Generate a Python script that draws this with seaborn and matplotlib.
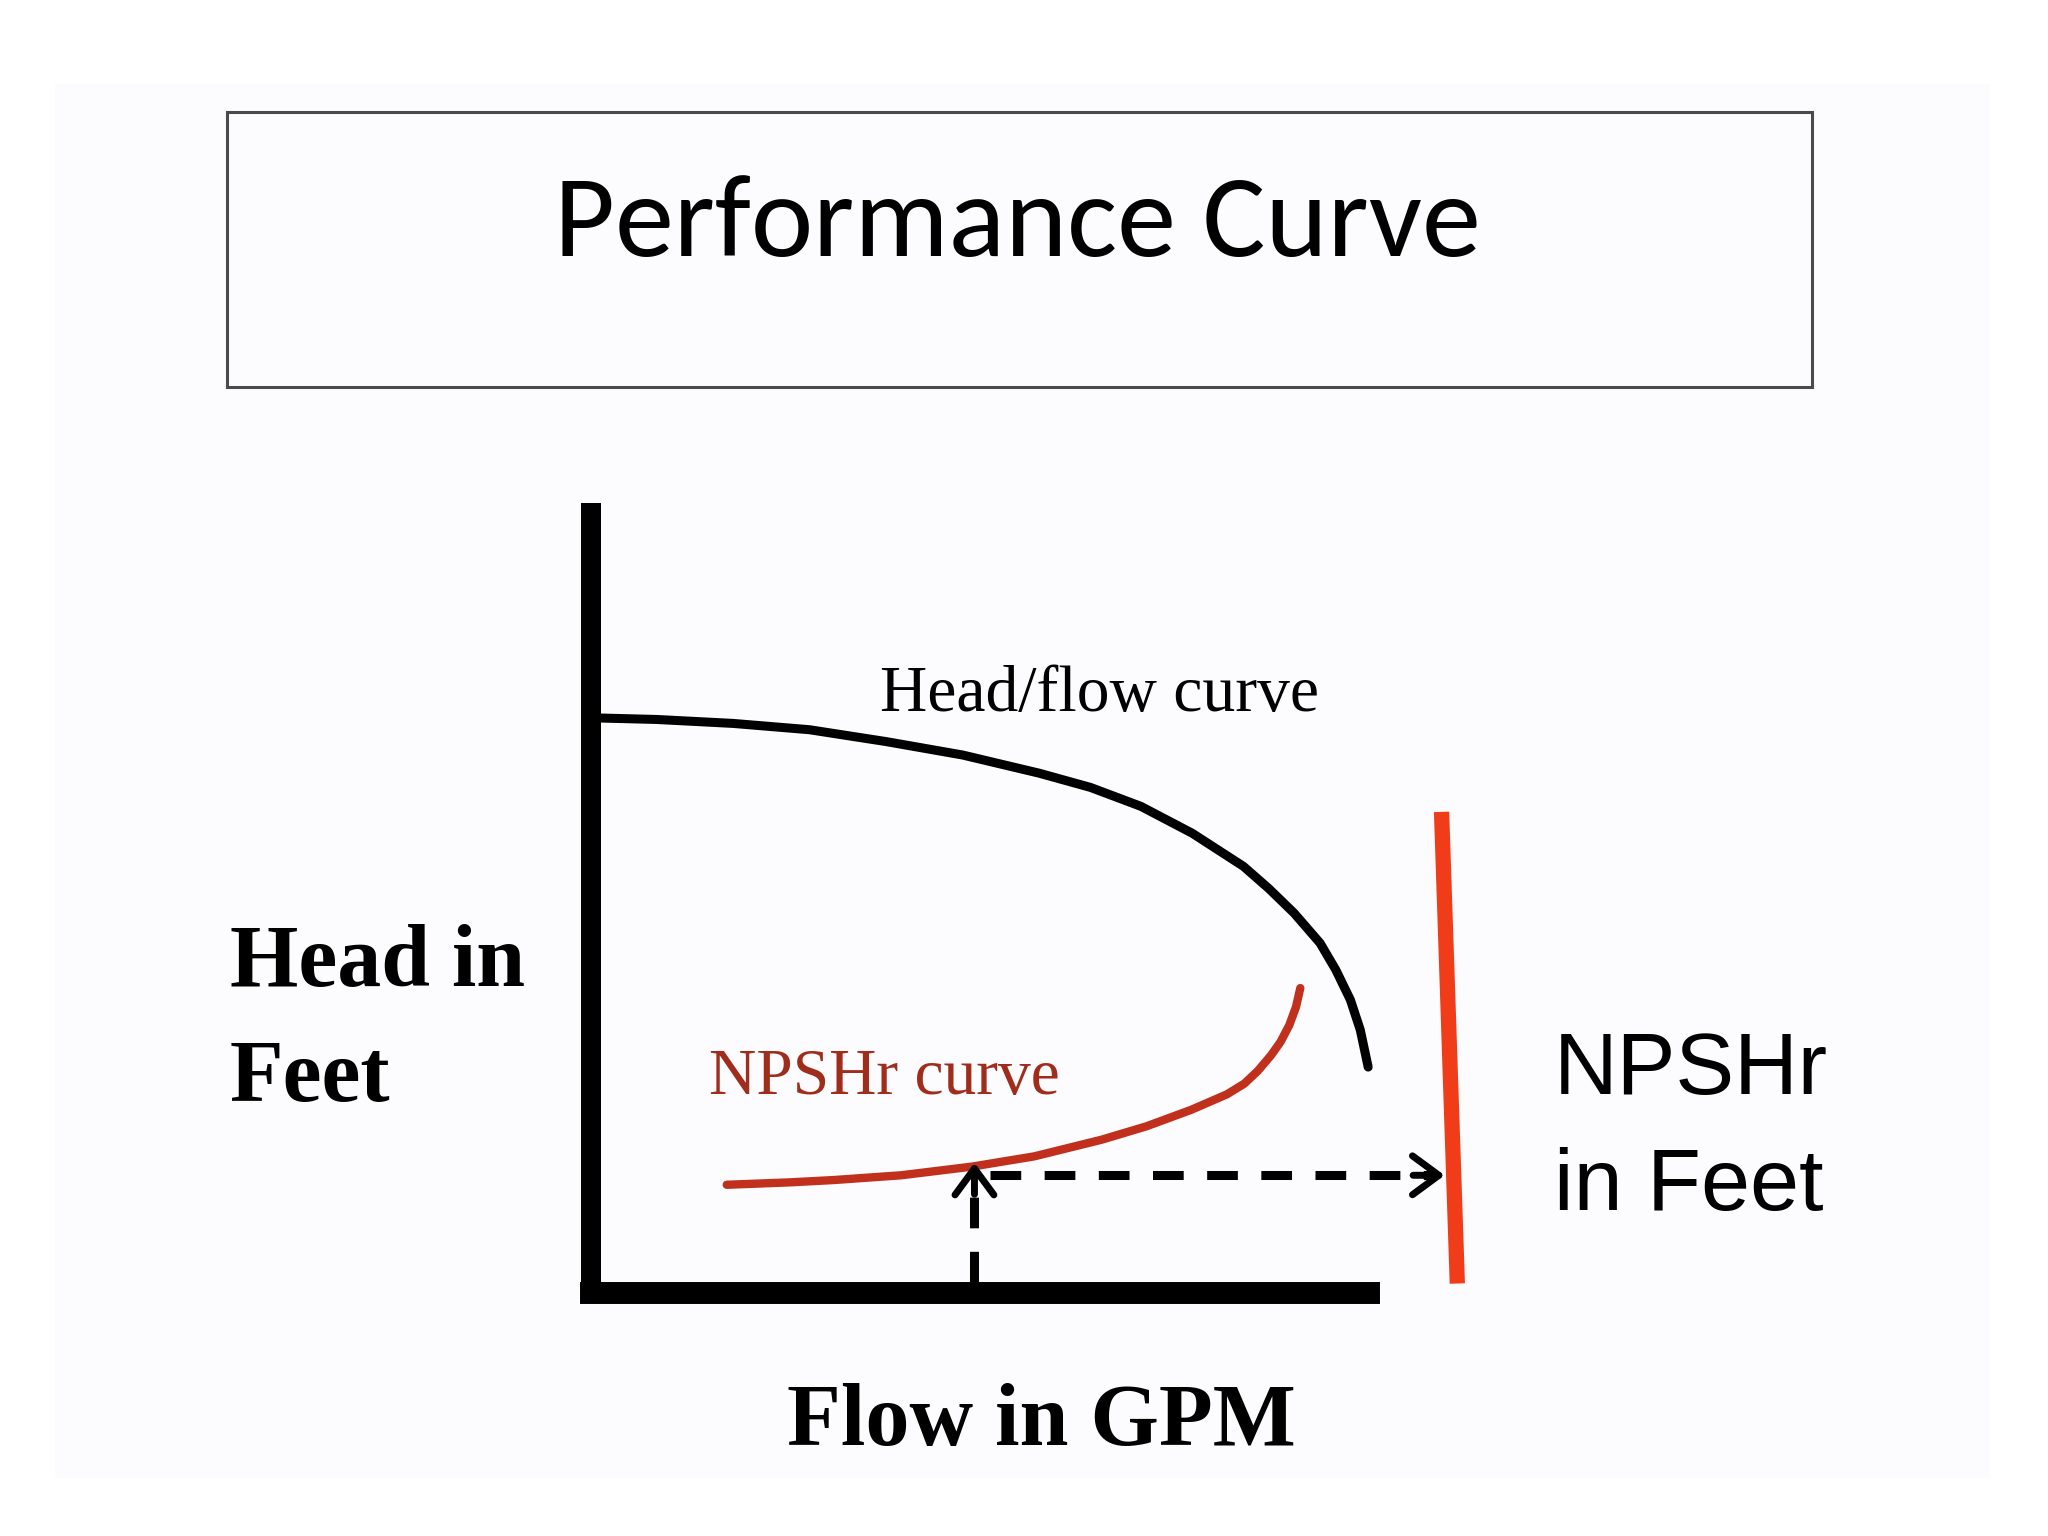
import numpy as np
import matplotlib
matplotlib.use("Agg")
import matplotlib.pyplot as plt
import seaborn as sns
from matplotlib.patches import Rectangle
from matplotlib.textpath import TextPath
from matplotlib.font_manager import FontProperties, fontManager

# head/flow curve: flow 0-100 along the drawn x axis, head 0-100 up the y axis
flow_hq = [0.5, 8.3, 18.0, 27.7, 37.4, 47.1, 56.8, 63.3, 69.7, 76.2, 82.7, 85.9,
           89.1, 92.4, 94.4, 96.25, 97.5, 98.5]
head_hq = [72.8, 72.6, 72.1, 71.3, 69.8, 68.1, 65.8, 64.0, 61.6, 58.2, 54.0, 51.2,
           48.1, 44.3, 40.9, 37.1, 33.3, 28.6]

# NPSHr curve
flow_npsh = [17.2, 25.1, 30.8, 39.3, 48.3, 56.2, 64.7, 70.4, 76.1, 80.6, 82.8,
             84.5, 86.2, 87.4, 88.5, 89.35, 89.9]
npsh_req = [13.7, 14.0, 14.3, 14.9, 16.0, 17.3, 19.4, 21.1, 23.2, 25.15, 26.5,
            28.1, 30.1, 31.8, 33.9, 36.2, 38.6]

# red NPSHr scale on the right
scale_x = [107.8, 109.8]
scale_y = [60.9, 1.2]

# duty point and the read-off arrows
duty_flow = 48.6
duty_npsh = 16.5
read_y = 14.9
read_x0 = 50.6
read_x1 = 108.2

title = "Performance Curve"
hq_label = "Head/flow curve"
npsh_label = "NPSHr curve"
y_label = ["Head in", "Feet"]
x_label = "Flow in GPM"
scale_label = ["NPSHr", "in Feet"]

W, H = 2048, 1536


def fx(px):
    return px / W


def fy(py):
    return 1 - py / H


installed = {f.name for f in fontManager.ttflist}


def pick(*names):
    for n in names:
        if n in installed:
            return n
    return names[-1]


title_font = pick("Carlito", "Lato", "Open Sans", "DejaVu Sans")
sans_font = pick("Liberation Sans Narrow", "Arimo", "Liberation Sans", "DejaVu Sans")
serif_font = pick("Liberation Serif", "Tinos", "DejaVu Serif")


def fit_size(s, family, weight, width_px, cap_px):
    # compromise between the width and the cap height seen in the picture
    fp = FontProperties(family=family, weight=weight)
    w = TextPath((0, 0), s, size=100, prop=fp).get_extents().width
    c = TextPath((0, 0), "H", size=100, prop=fp).get_extents().height
    fs_w = width_px * 0.72 / w * 100
    fs_h = cap_px * 0.72 / c * 100
    fs = np.sqrt(fs_w * fs_h)
    return fs, w * fs / 100 / 0.72, c * fs / 100 / 0.72


sns.set_theme(style="white")
fig = plt.figure(figsize=(20.48, 15.36), dpi=100, facecolor="white")

# slide panel and title box
fig.add_artist(Rectangle((fx(55), fy(1478)), fx(1990) - fx(55), fy(84) - fy(1478),
                         transform=fig.transFigure, facecolor="#fcfbfd",
                         edgecolor="none", zorder=0))
fig.add_artist(Rectangle((fx(227), fy(387)), fx(1812) - fx(227), fy(111.6) - fy(387),
                         transform=fig.transFigure, fill=False,
                         edgecolor="#4a4a4a", linewidth=2.2, zorder=1))

ax = fig.add_axes([fx(591), fy(1293), fx(1520) - fx(591), fy(503) - fy(1293)])
ax.patch.set_alpha(0)
ax.set_xlim(0, (1520 - 591) / 7.89)
ax.set_ylim(0, 100)
ax.set_xticks([])
ax.set_yticks([])
sns.despine(ax=ax)
# spines have projecting caps, so the bounds stop half a line width short
ax.spines["left"].set_linewidth(14.4)
ax.spines["left"].set_color("black")
ax.spines["left"].set_bounds(0, 98.7)
ax.spines["bottom"].set_linewidth(15.8)
ax.spines["bottom"].set_color("black")
ax.spines["bottom"].set_bounds(0, 98.6)

sns.lineplot(x=flow_hq, y=head_hq, ax=ax, color="black", linewidth=6.5,
             solid_capstyle="round", solid_joinstyle="round")
sns.lineplot(x=flow_npsh, y=npsh_req, ax=ax, color="#c0301c", linewidth=6,
             solid_capstyle="round", solid_joinstyle="round")
sns.lineplot(x=scale_x, y=scale_y, ax=ax, color="#f03c18", linewidth=11,
             solid_capstyle="butt", clip_on=False)

# dashed read-off lines
ax.plot([read_x0, read_x1 - 1.2], [read_y, read_y], color="black", lw=6.5,
        dashes=(3.4, 2.6), dash_capstyle="butt")
ax.plot([duty_flow, duty_flow], [1.4, duty_npsh - 1.2], color="black", lw=6.5,
        dashes=(3.4, 2.6), dash_capstyle="butt")
arrow = dict(arrowstyle="->,head_length=1.9,head_width=1.4", color="black", lw=5,
             shrinkA=0, shrinkB=0, mutation_scale=10)
ax.annotate("", xy=(read_x1, read_y), xytext=(read_x1 - 4, read_y), arrowprops=arrow)
ax.annotate("", xy=(duty_flow, duty_npsh), xytext=(duty_flow, duty_npsh - 4),
            arrowprops=arrow)


def put(s, family, weight, cx, base, width_px, cap_px, color="black"):
    fs, aw, ac = fit_size(s, family, weight, width_px, cap_px)
    fig.text(fx(cx), fy(base - (cap_px - ac) / 2), s, ha="center", va="baseline",
             fontsize=fs, family=family, weight=weight, color=color)


def put_block(lines, family, weight, left, bases, width_px, cap_px):
    fs, aw, ac = fit_size(lines[0], family, weight, width_px, cap_px)
    x0 = left + (width_px - aw) / 2
    for s, b in zip(lines, bases):
        fig.text(fx(x0), fy(b - (cap_px - ac) / 2), s, ha="left", va="baseline",
                 fontsize=fs, family=family, weight=weight, color="black")


put(title, title_font, "normal", 1017.5, 260, 833, 83)
put(hq_label, serif_font, "normal", 1100, 713.3, 390, 48)
put(npsh_label, serif_font, "normal", 884, 1096.7, 310, 48, color="#a02c1c")
put(x_label, serif_font, "bold", 1041.7, 1448.3, 447, 65)
put_block(y_label, serif_font, "bold", 246.7, [990, 1105], 258, 65)
put_block(scale_label, sans_font, "normal", 1568, [1098, 1214], 237, 68)

fig.savefig("out.png", dpi=100, facecolor="white")
